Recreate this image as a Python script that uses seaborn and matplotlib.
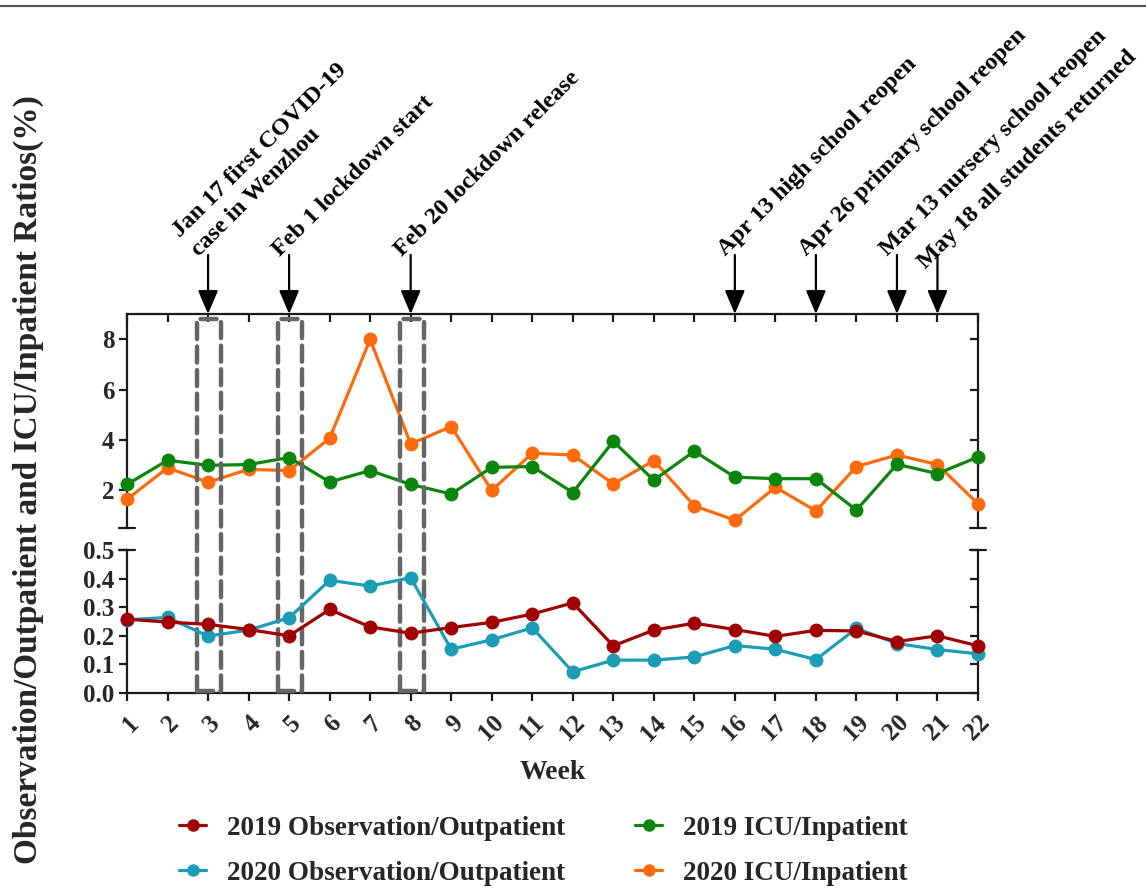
import numpy as np
import pandas as pd
import matplotlib
matplotlib.use("Agg")
import matplotlib.pyplot as plt
import seaborn as sns
from matplotlib.lines import Line2D
from matplotlib.patches import Rectangle
from matplotlib.transforms import blended_transform_factory

# ---- data -------------------------------------------------------------
weeks = list(range(1, 23))

obs_2019 = [0.258, 0.248, 0.240, 0.222, 0.200, 0.292, 0.231, 0.209, 0.229, 0.247, 0.276,
            0.315, 0.165, 0.220, 0.244, 0.222, 0.198, 0.219, 0.217, 0.180, 0.200, 0.165]
obs_2020 = [0.256, 0.264, 0.199, 0.220, 0.263, 0.394, 0.374, 0.403, 0.153, 0.186, 0.228,
            0.074, 0.115, 0.115, 0.126, 0.166, 0.153, 0.117, 0.226, 0.173, 0.152, 0.137]
icu_2019 = [2.23, 3.19, 2.99, 3.02, 3.30, 2.33, 2.78, 2.23, 1.85, 2.91, 2.94,
            1.91, 3.94, 2.40, 3.55, 2.52, 2.46, 2.46, 1.21, 3.03, 2.66, 3.32]
icu_2020 = [1.64, 2.89, 2.32, 2.83, 2.78, 4.06, 7.99, 3.84, 4.53, 1.99, 3.47,
            3.40, 2.25, 3.18, 1.38, 0.81, 2.12, 1.18, 2.94, 3.40, 3.02, 1.46]

series_names = ["2019 Observation/Outpatient", "2020 Observation/Outpatient",
                "2019 ICU/Inpatient", "2020 ICU/Inpatient"]
series_colors = ["#A00000", "#1A9DB5", "#0B850B", "#FF6A0D"]

event_weeks = [3, 5, 8, 16, 18, 20, 21]
event_labels = ["Jan 17 first COVID-19\ncase in Wenzhou",
                "Feb 1 lockdown start",
                "Feb 20 lockdown release",
                "Apr 13 high school reopen",
                "Apr 26 primary school reopen",
                "Mar 13 nursery school reopen",
                "May 18 all students returned"]
highlight_weeks = [3, 5, 8]

top_yticks = [2, 4, 6, 8]
bot_yticks = [0.0, 0.1, 0.2, 0.3, 0.4, 0.5]

palette = dict(zip(series_names, series_colors))

df_obs = pd.DataFrame({
    "Week": weeks * 2,
    "Ratio": obs_2020 + obs_2019,
    "Series": [series_names[1]] * 22 + [series_names[0]] * 22,
})
df_icu = pd.DataFrame({
    "Week": weeks * 2,
    "Ratio": icu_2020 + icu_2019,
    "Series": [series_names[3]] * 22 + [series_names[2]] * 22,
})

# ---- style ------------------------------------------------------------
sns.set_style("ticks")
plt.rcParams["font.family"] = ["Liberation Serif", "DejaVu Serif"]
plt.rcParams["font.weight"] = "bold"
plt.rcParams["axes.labelweight"] = "bold"

ink = "#1a1a1a"
fig = plt.figure(figsize=(11.46, 8.89), dpi=100)
ax_top = fig.add_axes([0.11082, 0.40607, 0.74258, 0.24072])
ax_bot = fig.add_axes([0.11082, 0.22047, 0.74258, 0.16086])

line_kw = dict(marker="o", markersize=10, markeredgewidth=0, linewidth=2.3,
               legend=False, errorbar=None)
sns.lineplot(data=df_icu, x="Week", y="Ratio", hue="Series",
             hue_order=[series_names[3], series_names[2]], palette=palette,
             ax=ax_top, **line_kw)
sns.lineplot(data=df_obs, x="Week", y="Ratio", hue="Series",
             hue_order=[series_names[1], series_names[0]], palette=palette,
             ax=ax_bot, **line_kw)
for ax in (ax_top, ax_bot):
    for ln in ax.lines:
        ln.set_clip_on(False)
        ln.set_zorder(4)

# ---- axes -------------------------------------------------------------
for ax in (ax_top, ax_bot):
    ax.set_xlim(1, 22)
    ax.set_xlabel("")
    ax.set_ylabel("")
    for s in ax.spines.values():
        s.set_linewidth(1.6)
        s.set_color(ink)
    ax.spines["right"].set_visible(False)
    ax.tick_params(axis="y", direction="out", length=6, width=1.6,
                   labelsize=18, color=ink, pad=3)

ax_top.set_ylim(0.5, 9)
ax_top.spines["bottom"].set_visible(False)
ax_top.spines["top"].set_visible(True)
ax_top.set_yticks(top_yticks)
ax_top.set_yticklabels([str(v) for v in top_yticks])
ax_top.set_xticks(weeks)
ax_top.tick_params(axis="x", bottom=False, top=True, direction="in", length=6,
                   width=1.6, color=ink, labelbottom=False, labeltop=False)

ax_bot.set_ylim(0, 0.5)
ax_bot.spines["top"].set_visible(False)
ax_bot.set_yticks(bot_yticks)
ax_bot.set_yticklabels([f"{v:.1f}" for v in bot_yticks])
ax_bot.set_xticks(weeks)
ax_bot.set_xticklabels([str(w) for w in weeks], rotation=45, ha="right",
                       va="top", rotation_mode="anchor")
ax_bot.tick_params(axis="x", direction="out", length=6, width=1.6, color=ink,
                   labelsize=18, pad=7)

# right-hand axes with inward ticks
for ax, ticks in ((ax_top, top_yticks), (ax_bot, bot_yticks)):
    sec = ax.secondary_yaxis("right")
    sec.set_yticks(ticks)
    sec.tick_params(direction="in", length=6, width=1.6, color=ink, labelright=False)
    sec.spines["right"].set_linewidth(1.6)
    sec.spines["right"].set_color(ink)

# caps at the break between the two panels
cap = 0.009
for ax, yv in ((ax_top, 0.0), (ax_bot, 1.0)):
    for xv in (0.0, 1.0):
        ax.add_line(Line2D([xv - cap, xv + cap], [yv, yv], transform=ax.transAxes,
                           color=ink, lw=1.6, clip_on=False))

# dashed highlight boxes spanning both panels
box_tr = blended_transform_factory(ax_bot.transData, fig.transFigure)
for w in highlight_weeks:
    ax_bot.add_patch(Rectangle((w - 0.27, 0.2227), 0.60, 0.641 - 0.2227,
                               transform=box_tr, fill=False, edgecolor="#666666",
                               lw=3.2, linestyle=(0, (3.6, 1.7)), joinstyle="round",
                               capstyle="round", clip_on=False, zorder=3))

# event arrows and labels (the last label sits a little lower to clear its neighbour)
label_nudge = {21: (-2, -9)}
for w, lab in zip(event_weeks, event_labels):
    ax_top.annotate("", xy=(w, 1.0), xycoords=("data", "axes fraction"),
                    xytext=(w, 1.276), textcoords=("data", "axes fraction"),
                    arrowprops=dict(arrowstyle="-|>,head_length=0.4,head_width=0.17",
                                    mutation_scale=36, color="black", lw=1.6,
                                    shrinkA=0, shrinkB=0),
                    annotation_clip=False)
    dx, dy = label_nudge.get(w, (0, 0))
    ax_top.annotate(lab, xy=(w, 1.276), xycoords=("data", "axes fraction"),
                    xytext=(-4 + dx, -4 + dy), textcoords="offset points",
                    rotation=45, rotation_mode="anchor", ha="left", va="bottom",
                    multialignment="left", fontsize=17.5, fontweight="bold",
                    color="black", annotation_clip=False, linespacing=1.35)

# labels
fig.text(0.0244, 0.46, "Observation/Outpatient and ICU/Inpatient Ratios(%)",
         rotation=90, ha="center", va="center", fontsize=24, fontweight="bold")
fig.text(0.4825, 0.1305, "Week", ha="center", va="center", fontsize=20,
         fontweight="bold")

# legend
handles = [Line2D([0], [0], color=c, marker="o", markersize=9, lw=2.3,
                  markeredgewidth=0) for c in series_colors]
fig.legend(handles, series_names, loc="center", bbox_to_anchor=(0.474, 0.043),
           ncol=2, frameon=False, fontsize=19.5, handlelength=1.0,
           handletextpad=0.75, columnspacing=2.6, labelspacing=0.75)

# thin rule along the top edge
fig.add_artist(Line2D([0, 1], [1 - 6 / 889] * 2, transform=fig.transFigure,
                      color="#555555", lw=1.5))

fig.savefig("out.png", dpi=100)
